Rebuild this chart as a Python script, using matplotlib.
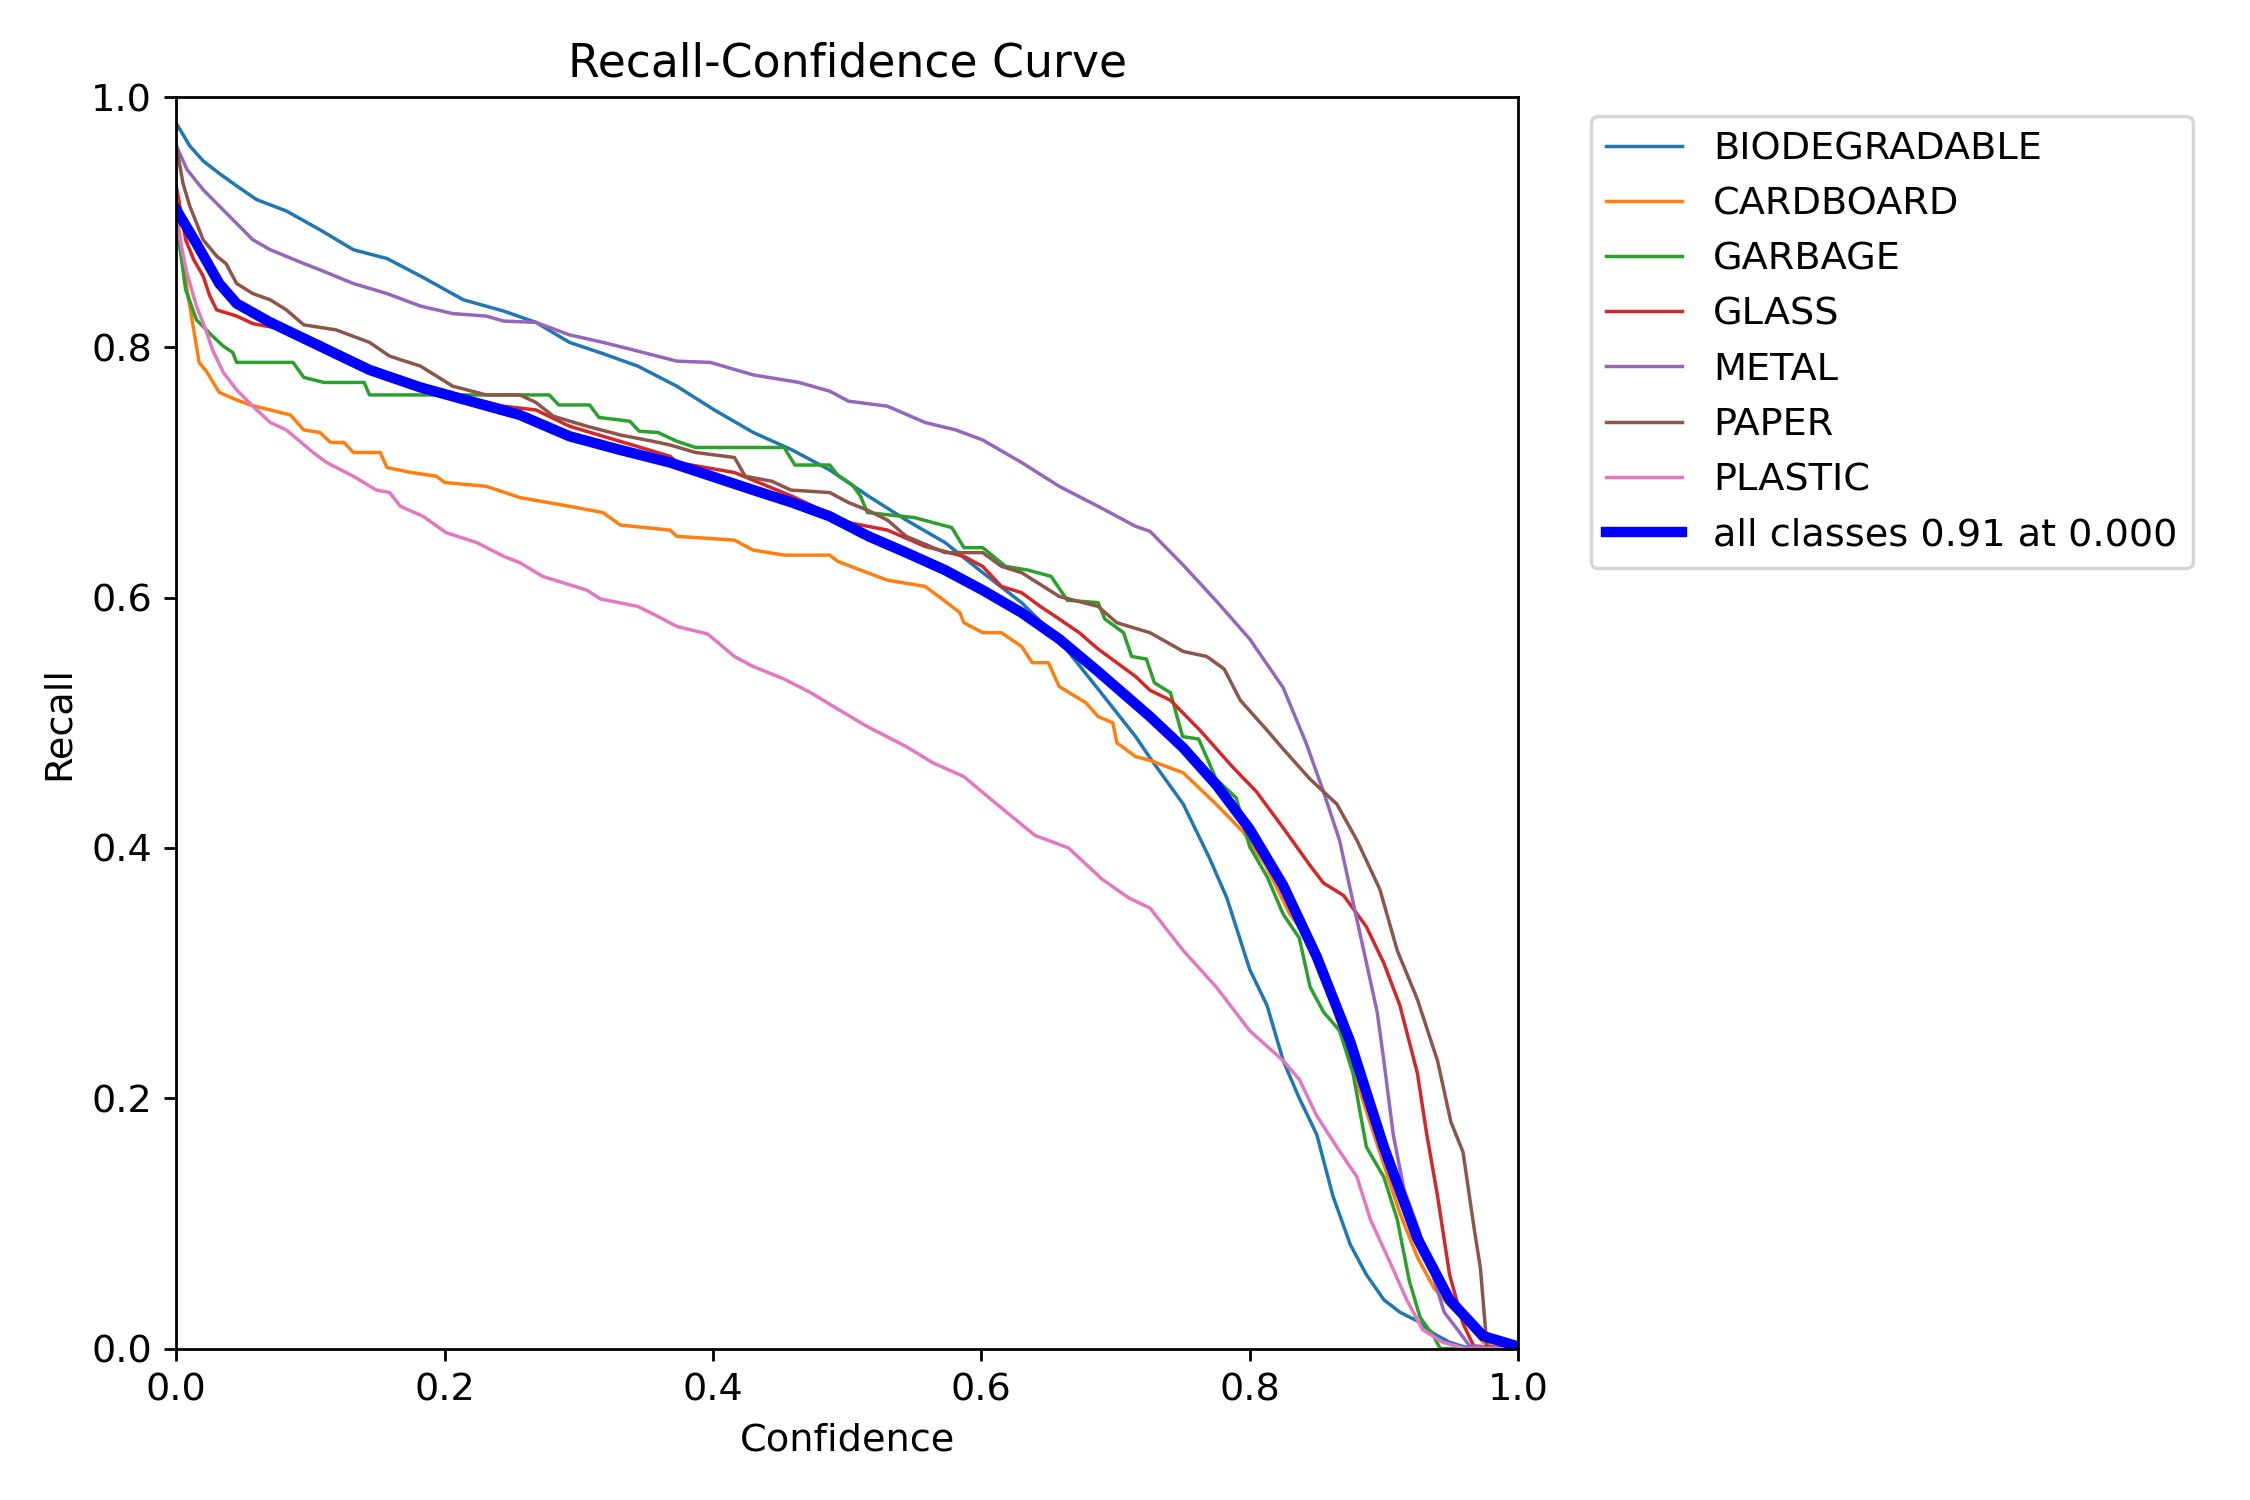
import matplotlib
matplotlib.use("Agg")
import matplotlib.pyplot as plt

plt.rcParams["font.size"] = 11

names = ["BIODEGRADABLE", "CARDBOARD", "GARBAGE", "GLASS", "METAL", "PAPER", "PLASTIC"]

# confidence / recall pairs
bio_x = [0.0, 0.010, 0.020, 0.032, 0.045, 0.060, 0.082, 0.107, 0.132, 0.157, 0.182, 0.214, 0.244,
         0.268, 0.293, 0.318, 0.344, 0.373, 0.401, 0.430, 0.459, 0.487, 0.516, 0.544, 0.573, 0.601,
         0.630, 0.658, 0.687, 0.715, 0.7257, 0.7505, 0.770, 0.783, 0.800, 0.813, 0.825, 0.837, 0.850,
         0.862, 0.875, 0.887, 0.900, 0.912, 0.925, 0.937, 0.949, 0.961, 1.0]
bio_y = [0.979, 0.961, 0.949, 0.939, 0.929, 0.918, 0.909, 0.894, 0.878, 0.871, 0.857, 0.838, 0.829,
         0.820, 0.804, 0.795, 0.785, 0.769, 0.750, 0.732, 0.718, 0.702, 0.681, 0.662, 0.644, 0.620,
         0.596, 0.566, 0.527, 0.489, 0.472, 0.435, 0.392, 0.360, 0.303, 0.274, 0.230, 0.200, 0.171,
         0.122, 0.083, 0.059, 0.039, 0.029, 0.022, 0.012, 0.005, 0.001, 0.0]

card_x = [0.0, 0.008, 0.017, 0.023, 0.032, 0.045, 0.055, 0.070, 0.085, 0.095, 0.107, 0.115, 0.125,
          0.132, 0.152, 0.157, 0.175, 0.194, 0.200, 0.231, 0.256, 0.293, 0.318, 0.331, 0.368, 0.373,
          0.416, 0.430, 0.453, 0.487, 0.493, 0.515, 0.530, 0.558, 0.572, 0.584, 0.587, 0.601, 0.615,
          0.630, 0.638, 0.650, 0.658, 0.678, 0.687, 0.698, 0.701, 0.715, 0.7257, 0.7505, 0.775, 0.795,
          0.812, 0.830, 0.850, 0.865, 0.875, 0.885, 0.900, 0.912, 0.925, 0.937, 0.949, 0.962, 0.974,
          0.985, 1.0]
card_y = [0.910, 0.846, 0.788, 0.780, 0.764, 0.758, 0.754, 0.750, 0.746, 0.734, 0.732, 0.724, 0.724,
          0.716, 0.716, 0.704, 0.700, 0.697, 0.692, 0.689, 0.680, 0.673, 0.668, 0.658, 0.654, 0.649,
          0.646, 0.638, 0.634, 0.634, 0.629, 0.620, 0.614, 0.609, 0.598, 0.588, 0.580, 0.572, 0.572,
          0.561, 0.548, 0.548, 0.529, 0.516, 0.505, 0.500, 0.484, 0.473, 0.470, 0.460, 0.435, 0.413,
          0.386, 0.347, 0.318, 0.264, 0.230, 0.196, 0.147, 0.108, 0.073, 0.049, 0.034, 0.020, 0.005,
          0.0, 0.0]

garb_x = [0.0, 0.007, 0.015, 0.027, 0.035, 0.042, 0.045, 0.087, 0.095, 0.110, 0.140, 0.144, 0.278,
          0.285, 0.308, 0.315, 0.338, 0.345, 0.359, 0.373, 0.387, 0.453, 0.461, 0.487, 0.493, 0.504,
          0.510, 0.515, 0.550, 0.578, 0.587, 0.601, 0.618, 0.635, 0.652, 0.664, 0.687, 0.692, 0.706,
          0.712, 0.723, 0.729, 0.741, 0.750, 0.762, 0.775, 0.790, 0.800, 0.813, 0.825, 0.837, 0.845,
          0.855, 0.867, 0.877, 0.887, 0.900, 0.910, 0.919, 0.927, 0.937, 0.942, 1.0]
garb_y = [0.900, 0.846, 0.822, 0.809, 0.801, 0.796, 0.788, 0.788, 0.776, 0.772, 0.772, 0.762, 0.762,
          0.754, 0.754, 0.744, 0.741, 0.733, 0.732, 0.725, 0.720, 0.720, 0.706, 0.706, 0.698, 0.690,
          0.681, 0.668, 0.664, 0.656, 0.640, 0.640, 0.625, 0.622, 0.617, 0.598, 0.596, 0.583, 0.572,
          0.553, 0.551, 0.532, 0.524, 0.489, 0.487, 0.455, 0.440, 0.401, 0.377, 0.347, 0.328, 0.289,
          0.269, 0.254, 0.220, 0.161, 0.137, 0.103, 0.054, 0.025, 0.010, 0.0, 0.0]

glass_x = [0.0, 0.007, 0.013, 0.020, 0.025, 0.030, 0.045, 0.057, 0.082, 0.107, 0.144, 0.194, 0.244,
           0.268, 0.293, 0.318, 0.368, 0.373, 0.416, 0.459, 0.501, 0.530, 0.558, 0.587, 0.601, 0.615,
           0.630, 0.644, 0.658, 0.673, 0.687, 0.715, 0.7257, 0.741, 0.763, 0.787, 0.805, 0.825, 0.845,
           0.855, 0.870, 0.887, 0.900, 0.912, 0.925, 0.932, 0.940, 0.949, 0.959, 0.967, 1.0]
glass_y = [0.929, 0.886, 0.870, 0.857, 0.841, 0.830, 0.825, 0.819, 0.814, 0.804, 0.780, 0.766, 0.753,
           0.750, 0.737, 0.729, 0.713, 0.708, 0.700, 0.681, 0.660, 0.654, 0.641, 0.633, 0.625, 0.609,
           0.604, 0.593, 0.583, 0.572, 0.559, 0.537, 0.526, 0.518, 0.494, 0.465, 0.445, 0.416, 0.386,
           0.372, 0.362, 0.337, 0.308, 0.274, 0.220, 0.171, 0.122, 0.059, 0.020, 0.002, 0.0]

metal_x = [0.0, 0.008, 0.020, 0.032, 0.045, 0.057, 0.070, 0.095, 0.107, 0.132, 0.157, 0.182, 0.206,
           0.231, 0.244, 0.268, 0.293, 0.318, 0.344, 0.373, 0.398, 0.430, 0.464, 0.487, 0.501, 0.530,
           0.558, 0.581, 0.601, 0.630, 0.658, 0.687, 0.715, 0.7257, 0.7505, 0.7754, 0.800, 0.825, 0.842,
           0.855, 0.867, 0.877, 0.885, 0.895, 0.900, 0.907, 0.915, 0.925, 0.935, 0.945, 0.955, 0.964, 1.0]
metal_y = [0.961, 0.942, 0.926, 0.913, 0.899, 0.886, 0.878, 0.867, 0.862, 0.851, 0.843, 0.833, 0.827,
           0.825, 0.821, 0.820, 0.810, 0.804, 0.797, 0.789, 0.788, 0.778, 0.772, 0.765, 0.757, 0.753,
           0.740, 0.734, 0.726, 0.708, 0.689, 0.673, 0.657, 0.653, 0.626, 0.597, 0.567, 0.528, 0.484,
           0.445, 0.406, 0.357, 0.318, 0.269, 0.230, 0.171, 0.127, 0.098, 0.064, 0.029, 0.015, 0.002, 0.0]

paper_x = [0.0, 0.005, 0.010, 0.020, 0.030, 0.037, 0.045, 0.057, 0.070, 0.082, 0.095, 0.119, 0.144,
           0.159, 0.182, 0.206, 0.231, 0.256, 0.268, 0.281, 0.306, 0.331, 0.355, 0.368, 0.387, 0.416,
           0.424, 0.444, 0.458, 0.487, 0.501, 0.515, 0.530, 0.544, 0.573, 0.601, 0.615, 0.630, 0.658,
           0.687, 0.701, 0.7257, 0.7505, 0.768, 0.781, 0.793, 0.813, 0.825, 0.845, 0.865, 0.880, 0.897,
           0.910, 0.925, 0.940, 0.950, 0.959, 0.967, 0.972, 0.975, 0.977, 1.0]
paper_y = [0.961, 0.931, 0.913, 0.886, 0.873, 0.867, 0.851, 0.843, 0.838, 0.830, 0.818, 0.814, 0.804,
           0.793, 0.785, 0.769, 0.762, 0.762, 0.756, 0.745, 0.737, 0.730, 0.725, 0.722, 0.716, 0.712,
           0.697, 0.693, 0.686, 0.684, 0.676, 0.670, 0.662, 0.649, 0.636, 0.636, 0.625, 0.620, 0.601,
           0.593, 0.580, 0.572, 0.557, 0.553, 0.543, 0.518, 0.494, 0.479, 0.455, 0.435, 0.406, 0.367,
           0.318, 0.279, 0.230, 0.181, 0.157, 0.098, 0.064, 0.025, 0.0, 0.0]

plast_x = [0.0, 0.008, 0.015, 0.022, 0.027, 0.035, 0.045, 0.057, 0.070, 0.082, 0.102, 0.112, 0.132,
           0.149, 0.159, 0.167, 0.184, 0.201, 0.224, 0.244, 0.256, 0.273, 0.306, 0.316, 0.344, 0.359,
           0.373, 0.396, 0.416, 0.430, 0.453, 0.473, 0.493, 0.515, 0.544, 0.564, 0.587, 0.607, 0.64,
           0.665, 0.69, 0.71, 0.7257, 0.7505, 0.775, 0.800, 0.825, 0.837, 0.850, 0.865, 0.880, 0.890,
           0.905, 0.917, 0.929, 0.944, 0.961, 1.0]
plast_y = [0.900, 0.859, 0.833, 0.814, 0.798, 0.780, 0.766, 0.753, 0.740, 0.734, 0.716, 0.708, 0.697,
           0.686, 0.684, 0.673, 0.665, 0.652, 0.644, 0.633, 0.628, 0.617, 0.606, 0.599, 0.593, 0.585,
           0.577, 0.571, 0.553, 0.545, 0.535, 0.524, 0.511, 0.497, 0.481, 0.468, 0.457, 0.439, 0.41,
           0.40, 0.375, 0.36, 0.352, 0.318, 0.289, 0.254, 0.230, 0.215, 0.186, 0.161, 0.137, 0.103,
           0.068, 0.039, 0.015, 0.005, 0.0, 0.0]

all_x = [0.0, 0.015, 0.032, 0.045, 0.070, 0.107, 0.144, 0.182, 0.219, 0.256, 0.293, 0.331, 0.368,
         0.430, 0.459, 0.487, 0.516, 0.544, 0.573, 0.601, 0.630, 0.658, 0.687, 0.7257, 0.7505, 0.7754,
         0.800, 0.825, 0.850, 0.875, 0.900, 0.925, 0.949, 0.974, 0.999]
all_y = [0.910, 0.883, 0.851, 0.835, 0.820, 0.801, 0.782, 0.768, 0.757, 0.746, 0.729, 0.718, 0.708,
         0.686, 0.676, 0.665, 0.649, 0.636, 0.622, 0.606, 0.588, 0.567, 0.541, 0.505, 0.480, 0.450,
         0.415, 0.370, 0.313, 0.245, 0.161, 0.088, 0.039, 0.010, 0.002]

xs = [bio_x, card_x, garb_x, glass_x, metal_x, paper_x, plast_x]
ys = [bio_y, card_y, garb_y, glass_y, metal_y, paper_y, plast_y]

fig, ax = plt.subplots(1, 1, figsize=(9, 6), tight_layout=True)
for name, x, y in zip(names, xs, ys):
    ax.plot(x, y, linewidth=1, label=name)
ax.plot(all_x, all_y, linewidth=3, color="blue", label="all classes 0.91 at 0.000")

ax.set_xlabel("Confidence")
ax.set_ylabel("Recall")
ax.set_xlim(0, 1)
ax.set_ylim(0, 1)
ax.legend(bbox_to_anchor=(1.04, 1), loc="upper left")
ax.set_title("Recall-Confidence Curve")
fig.savefig("out.png", dpi=250)
